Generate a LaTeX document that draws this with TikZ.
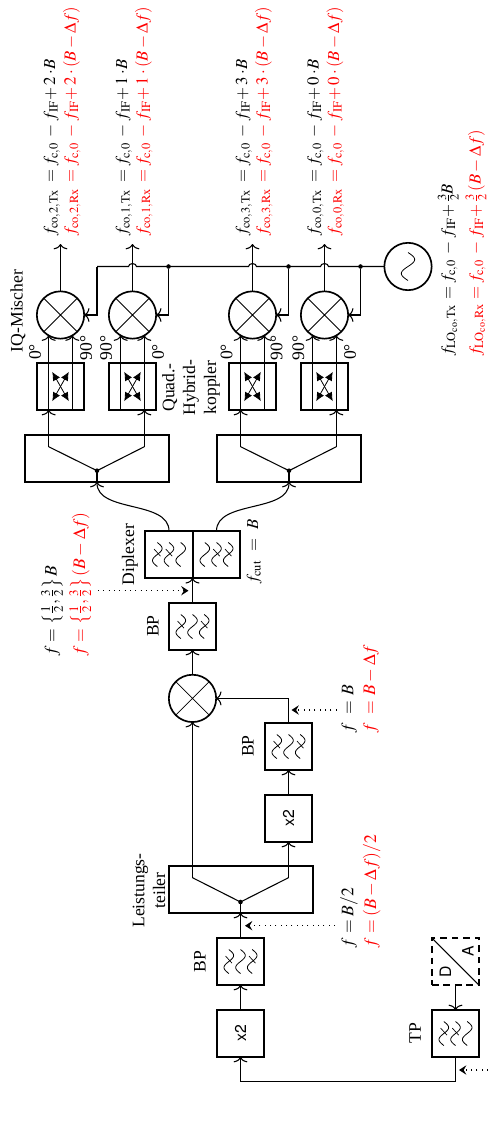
\documentclass[tikz,border=0pt]{standalone}
\usepackage{mathptmx}
\usepackage[no-math]{fontspec}
\setmainfont{Liberation Serif}
\setsansfont{TeX Gyre Heros}
\usetikzlibrary{arrows.meta,calc}
\definecolor{rxred}{RGB}{255,0,0}
\newcommand{\txt}{\fontsize{13.2}{15.6}\selectfont}
\newcommand{\mtxt}{\fontsize{12.6}{15.6}\selectfont}
\newcommand{\sftxt}{\fontsize{11.8}{15}\selectfont\sffamily}
\newcommand{\lhsbox}[2][40.2pt]{\makebox[#1][l]{$#2$}}
\newcommand{\core}{{=}\hspace{2.5pt}f_{\mathrm{c},0}\hspace{4pt}{-}\hspace{3pt}f_{\mathrm{IF}}\hspace{-1.5pt}}
\newcommand{\filtersym}[2]{%
  \begin{scope}[shift={(#1.center)},thinline]
    \foreach \o in {-11.7,0,11.7}{%
      \draw[line width=0.6pt,smooth,samples=25,domain=-12:12,variable=\t] plot ({\o-4.8*sin(180*\t/12)},{\t});}
    \foreach \o in {#2}{\draw[line width=0.5pt] (\o-3.2,-5.4) -- (\o+3.2,1.6);}
  \end{scope}}
\newcommand{\hybridsym}[1]{%
  \begin{scope}[shift={(#1.center)}]
    \draw[line width=0.6pt,{Latex[length=6.5pt,width=6pt]}-{Latex[length=6.5pt,width=6pt]}] (-8.3,-14.7) -- (8.3,14.7);
    \draw[line width=0.6pt,{Latex[length=6.5pt,width=6pt]}-{Latex[length=6.5pt,width=6pt]}] (8.3,-14.7) -- (-8.3,14.7);
  \end{scope}}
\newcommand{\mixsym}[1]{%
  \draw[thinline] (#1.45) -- (#1.225) (#1.135) -- (#1.-45);}
\tikzset{
  x=0.75pt,y=-0.75pt,
  conn/.style={line width=0.8pt,-{Computer Modern Rightarrow[length=4pt,width=10.5pt]}},
  plainline/.style={line width=0.8pt},
  thinline/.style={line width=0.6pt},
  blockbox/.style={draw,line width=1.25pt,minimum width=35.25pt,minimum height=35.25pt,inner sep=0pt,outer sep=0pt},
  splitbox/.style={draw,line width=1.25pt,minimum width=108pt,minimum height=35.25pt,inner sep=0pt,outer sep=0pt},
  mixer/.style={draw,circle,line width=1.25pt,minimum size=35.5pt,inner sep=0pt,outer sep=0pt},
  jdot/.style={circle,fill=black,minimum size=3.4pt,inner sep=0pt,outer sep=0pt},
  hintarrow/.style={line width=0.8pt,dash pattern=on 0.8pt off 3.2pt,-{Stealth[length=5.5pt,width=7pt,inset=2pt]}},
  lbl/.style={rotate=90,font=\txt,inner sep=0pt},
  frm/.style={rotate=90,font=\mtxt,inner sep=0pt,anchor=base west},
  frmb/.style={rotate=90,font=\txt,inner sep=0pt,anchor=base west},
  multi/.style={rotate=90,font=\txt,inner sep=0pt,align=center},
}
\begin{document}
\begin{tikzpicture}
\useasboundingbox (0,0) rectangle (488,1131);

% mixers and oscillator
\node[mixer] (m1) at (60.5,315) {};
\node[mixer] (m2) at (132.5,315) {};
\node[mixer] (m3) at (252.5,315) {};
\node[mixer] (m4) at (324.5,315) {};
\node[mixer] (m5) at (192.5,698.4) {};
\node[mixer] (osc) at (408,266.5) {};
\foreach \n in {m1,m2,m3,m4,m5}{\mixsym{\n}}
\draw[line width=0.6pt,smooth,samples=25,domain=-14:14,variable=\t] plot ({408-6.7*sin(180*\t/14)},{266.5+\t});

% hybrids
\node[blockbox] (h1) at (60.5,386.5) {};
\node[blockbox] (h2) at (132.5,386.5) {};
\node[blockbox] (h3) at (252.5,386.5) {};
\node[blockbox] (h4) at (324.5,386.5) {};
\foreach \n in {h1,h2,h3,h4}{\hybridsym{\n}}

% splitters
\node[splitbox] (s1) at (97,458.5) {};
\node[splitbox] (s2) at (289,458.5) {};
\node[splitbox] (s3) at (241,889.5) {};
\node[jdot] (d1) at (97,470.7) {};
\node[jdot] (d2) at (289,470.7) {};
\node[jdot] (d3) at (240.5,902) {};
\coordinate (a1) at (48.65,446.7);
\coordinate (b1) at (144.35,446.7);
\coordinate (a2) at (240.65,446.7);
\coordinate (b2) at (336.35,446.7);
\coordinate (a3) at (192.5,877.7);
\coordinate (b3) at (288.5,877.7);

% filters
\node[blockbox,minimum width=36pt] (dx1) at (169,554.5) {};
\node[blockbox] (dx2) at (216.5,554.5) {};
\node[blockbox] (bp1) at (192.5,626.5) {};
\node[blockbox] (bp2) at (288.5,746.5) {};
\node[blockbox] (x2a) at (288.5,818.5) {\sftxt\rotatebox{90}{x2}};
\node[blockbox] (bp3) at (240.5,961.5) {};
\node[blockbox] (x2b) at (240.5,1033.5) {\sftxt\rotatebox{90}{x2}};
\node[blockbox] (tp) at (455.5,1033.5) {};
\node[blockbox,dash pattern=on 5pt off 3.6pt] (da) at (455.5,961.5) {};
\filtersym{dx1}{-11.7,0}
\filtersym{dx2}{0,11.7}
\filtersym{bp1}{-11.7,11.7}
\filtersym{bp2}{-11.7,11.7}
\filtersym{bp3}{-11.7,11.7}
\filtersym{tp}{-11.7,0}
\draw[plainline] (da.north west) -- (da.south east);
\node[rotate=90,inner sep=0pt,font=\sftxt] (dl) at (445.5,972) {D};
\node[rotate=90,inner sep=0pt,font=\sftxt] (al) at (468,951.7) {A};

% outputs
\foreach \i/\x in {1/60.5,2/132.5,3/252.5,4/324.5}{%
  \coordinate (o\i) at (\x,244);
  \draw[conn] (m\i.north) -- (o\i);}

% LO distribution
\coordinate (lo1) at (97,266.5);
\node[jdot] (lo2) at (168.5,266.5) {};
\node[jdot] (lo3) at (288.5,266.5) {};
\node[jdot] (lo4) at (360.5,266.5) {};
\draw[plainline] (osc.west) -- ([xshift=3pt]m4 |- osc) arc[start angle=0,end angle=180,x radius=3pt,y radius=2.2pt]
  -- ([xshift=3pt]m3 |- osc) arc[start angle=0,end angle=180,x radius=3pt,y radius=2.2pt]
  -- ([xshift=3pt]m2 |- osc) arc[start angle=0,end angle=180,x radius=3pt,y radius=2.2pt]
  -- (lo1);
\draw[conn] (lo1) |- (m1.east);
\draw[conn] (lo2) |- (m2.east);
\draw[conn] (lo3) |- (m3.east);
\draw[conn] (lo4) |- (m4.east);

% hybrid to mixer
\foreach \i in {1,2,3,4}{%
  \draw[conn] (m\i.240 |- h\i.south) -- (m\i.240);
  \draw[conn] (m\i.300 |- h\i.south) -- (m\i.300);}

% splitter inner lines and inputs
\draw[plainline] (a1) -- (d1.center) -- (b1);
\draw[plainline] (a2) -- (d2.center) -- (b2);
\draw[plainline] (a3) -- (d3.center) -- (b3);
\draw[conn] (a1) -- (a1 |- h1.south);
\draw[conn] (b1) -- (b1 |- h2.south);
\draw[conn] (a2) -- (a2 |- h3.south);
\draw[conn] (b2) -- (b2 |- h4.south);
\draw[plainline] (d1.center) -- (s1.south);
\draw[plainline] (d2.center) -- (s2.south);
\draw[plainline] (d3.center) -- (d3 |- s3.south);

% diplexer
\draw[conn] (dx1.north) .. controls +(0,-31) and +(0,31) .. (s1.south);
\draw[conn] (dx2.north) .. controls +(0,-31) and +(0,31) .. (s2.south);
\coordinate (dxin) at (192.5,578.2);
\draw[conn] (bp1.north) -- (dxin);

% lower chain
\draw[conn] (m5.north) -- (bp1.south);
\draw[conn] (a3) -- (m5.south);
\draw[conn] (b3) -- (x2a.south);
\draw[conn] (x2a.north) -- (bp2.south);
\draw[conn] (bp2.north) |- (m5.east);
\draw[conn] (bp3.north) -- (d3 |- s3.south);
\draw[conn] (x2b.north) -- (bp3.south);
\coordinate (cor) at (455.5,1081.7);
\draw[conn] (tp.south) -- (cor) -- (cor -| x2b) -- (x2b.south);
\draw[conn] (da.south) -- (tp.north);

% dotted hints
\coordinate (h1s) at (98,590.7); \coordinate (h1e) at (188.5,590.7);
\coordinate (h2s) at (336.7,710); \coordinate (h2e) at (291.5,710);
\coordinate (h3s) at (335,925.7); \coordinate (h3e) at (245,925.7);
\coordinate (h4s) at (488,1070); \coordinate (h4e) at (459,1070);
\draw[hintarrow] (h1s) -- (h1e);
\draw[hintarrow] (h2s) -- (h2e);
\draw[hintarrow] (h3s) -- (h3e);
\draw[hintarrow] (h4s) -- (h4e);

% output formulas
\foreach \i/\x/\k in {2/55/2,1/127/1,3/247/3,0/318.7/0}{%
  \node[frm] at (\x,236.7) {\lhsbox{f_{\mathrm{co},\k,\mathrm{Tx}}}$\core+\k\cdot\! B$};
  \node[frm,text=rxred] at (\x+20.5,236.7) {\lhsbox{f_{\mathrm{co},\k,\mathrm{Rx}}}$\core+\k\cdot(B-\Delta f)$};}
\node[frm] at (452.7,356.7) {\lhsbox[42.5pt]{f_{\mathrm{LO}_{\mathrm{co}},\mathrm{Tx}}}$\core+\frac{3}{2}\!B$};
\node[frm,text=rxred] at (480.5,356.7) {\lhsbox[42.5pt]{f_{\mathrm{LO}_{\mathrm{co}},\mathrm{Rx}}}$\core+\frac{3}{2}\,(B-\Delta f)$};

% labels
\node[lbl] at (18,311) {IQ-Mischer};
\node[lbl] at (35,352) {0°};
\node[lbl] at (86,348) {90°};
\node[lbl] at (106,348) {90°};
\node[lbl] at (158,352) {0°};
\node[lbl] at (226.7,352) {0°};
\node[lbl] at (276.7,348) {90°};
\node[lbl] at (298.3,348) {90°};
\node[lbl] at (350,352) {0°};
\node[multi] at (191,387.5) {Quad.-\\Hybrid-\\koppler};
\node[lbl] at (130,554.7) {Diplexer};
\node[frm] at (258,584.5) {$f_{\mathrm{cut}}\;\,=\;\,B$};
\node[lbl] at (153,626) {BP};
\node[lbl] at (248,746) {BP};
\node[lbl] at (200,961.7) {BP};
\node[lbl] at (415,1033) {TP};
\node[multi] at (149,890.5) {Leistungs-\\teiler};
\node[frmb] at (56.7,656.7) {$f=\left\{\frac{1}{2},\frac{3}{2}\right\}B$};
\node[frmb,text=rxred] at (85,656.7) {$f=\left\{\frac{1}{2},\frac{3}{2}\right\}(B-\Delta f)$};
\node[frmb] at (353.3,733) {$f\;=\,B$};
\node[frmb,text=rxred] at (375,733) {$f\;=\,B-\Delta f$};
\node[frmb] at (353.3,948) {$f=B/2$};
\node[frmb,text=rxred] at (376,948) {$f=(B-\Delta f)/2$};
\end{tikzpicture}
\end{document}
